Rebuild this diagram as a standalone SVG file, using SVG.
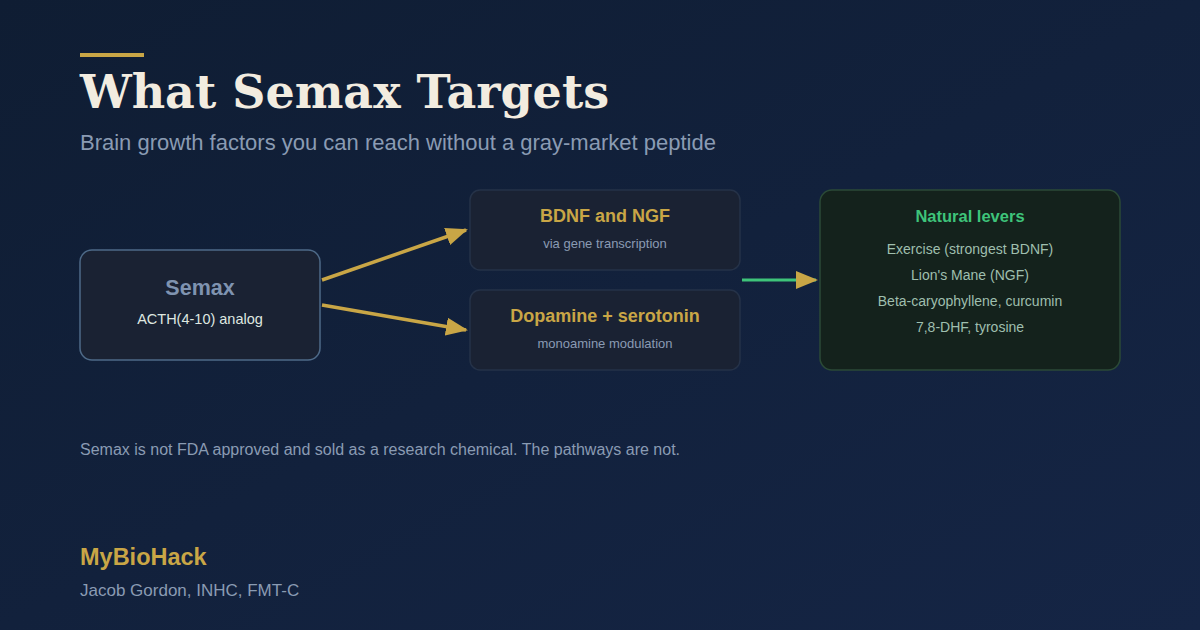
<svg xmlns="http://www.w3.org/2000/svg" width="1200" height="630" viewBox="0 0 1200 630">
<defs>
<linearGradient id="bg" x1="0" y1="0" x2="1" y2="1"><stop offset="0" stop-color="#0f1d33"/><stop offset="1" stop-color="#152545"/></linearGradient>
<marker id="ahb" markerWidth="22" markerHeight="18" refX="20" refY="9" orient="auto" markerUnits="userSpaceOnUse"><path d="M0,0 L22,9 L0,18 z" fill="#c9a646"/></marker>
</defs>
<style>
text{font-family:"Liberation Sans",Arial,sans-serif}
.box{fill:#1a2233;stroke:#253248;stroke-width:1.5}
.h{font-size:18px;font-weight:bold;fill:#c9a646;text-anchor:middle}
.s{font-size:13px;fill:#8a9bb3;text-anchor:middle}
.g{font-size:14px;fill:#9fbfae;text-anchor:middle}
</style>
<rect width="1200" height="630" fill="url(#bg)"/>
<rect x="80" y="53" width="64" height="4" fill="#c9a646"/>
<text x="80" y="108" style="font-family:'DejaVu Serif',serif" font-size="46" font-weight="bold" fill="#f2ece0">What Semax Targets</text>
<text x="80" y="150" font-size="22" fill="#8a9bb3">Brain growth factors you can reach without a gray-market peptide</text>
<g id="connectors">
<line x1="322" y1="280" x2="466" y2="230" stroke="#c9a646" stroke-width="3.5" marker-end="url(#ahb)"/>
<line x1="322" y1="305" x2="466" y2="330" stroke="#c9a646" stroke-width="3.5" marker-end="url(#ahb)"/>
<line x1="742" y1="280" x2="816" y2="280" stroke="#3ec47a" stroke-width="3" marker-end="url(#ahb)"/>
</g>
<g id="semax">
<rect x="80" y="250" width="240" height="110" rx="12" fill="#1a2233" stroke="#4e6a88" stroke-width="1.5"/>
<text x="200" y="295" font-size="21.5" font-weight="bold" fill="#7f93b0" text-anchor="middle">Semax</text>
<text x="200" y="324" font-size="14.5" fill="#dfe7e0" text-anchor="middle">ACTH(4-10) analog</text>
</g>
<g id="bdnf">
<rect class="box" x="470" y="190" width="270" height="80" rx="10"/>
<text class="h" x="605" y="222">BDNF and NGF</text>
<text class="s" x="605" y="248">via gene transcription</text>
</g>
<g id="dopamine">
<rect class="box" x="470" y="290" width="270" height="80" rx="10"/>
<text class="h" x="605" y="322">Dopamine + serotonin</text>
<text class="s" x="605" y="348">monoamine modulation</text>
</g>
<g id="natural">
<rect x="820" y="190" width="300" height="180" rx="12" fill="#14221c" stroke="#2b4a37" stroke-width="1.5"/>
<text x="970" y="222" font-size="16.5" font-weight="bold" fill="#3ec47a" text-anchor="middle">Natural levers</text>
<text class="g" x="970" y="254">Exercise (strongest BDNF)</text>
<text class="g" x="970" y="280">Lion's Mane (NGF)</text>
<text class="g" x="970" y="306">Beta-caryophyllene, curcumin</text>
<text class="g" x="970" y="332">7,8-DHF, tyrosine</text>
</g>
<text x="80" y="455" font-size="16" fill="#8a9bb3">Semax is not FDA approved and sold as a research chemical. The pathways are not.</text>
<text x="80" y="565" font-size="23.5" font-weight="bold" fill="#c9a646">MyBioHack</text>
<text x="80" y="596" font-size="17" fill="#8a9bb3">Jacob Gordon, INHC, FMT-C</text>
</svg>
